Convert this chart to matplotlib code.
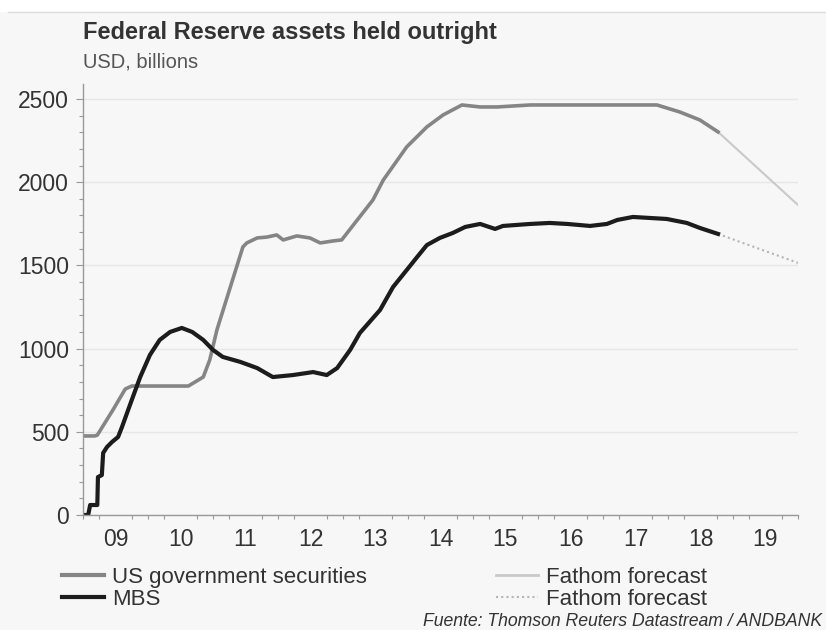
import matplotlib
matplotlib.use('Agg')

import matplotlib.pyplot as plt
from matplotlib.lines import Line2D
from matplotlib.ticker import MultipleLocator, FixedLocator, NullFormatter

plt.rcParams['font.family'] = ['Liberation Sans', 'DejaVu Sans']

# US government securities (year, USD bn)
gov_years = [2009.00, 2009.18, 2009.22, 2009.46, 2009.65, 2009.75, 2010.62, 2010.85,
             2010.95, 2011.06, 2011.46, 2011.52, 2011.68, 2011.83, 2011.98, 2012.08,
             2012.29, 2012.49, 2012.65, 2012.85, 2012.98, 2013.46, 2013.62, 2013.98,
             2014.29, 2014.54, 2014.83, 2015.11, 2015.37, 2015.88, 2016.95, 2017.83,
             2018.18, 2018.49, 2018.77]
gov_values = [475, 475, 480, 631, 757, 775, 775, 829,
              932, 1112, 1611, 1635, 1665, 1670, 1683, 1653,
              1677, 1665, 1635, 1647, 1653, 1893, 2013, 2212,
              2332, 2404, 2464, 2452, 2452, 2464, 2464, 2464,
              2422, 2374, 2302]

# MBS
mbs_years = [2009.00, 2009.08, 2009.11, 2009.22, 2009.23, 2009.29, 2009.31, 2009.37,
             2009.45, 2009.54, 2009.60, 2009.75, 2009.88, 2010.03, 2010.18, 2010.34,
             2010.52, 2010.68, 2010.85, 2011.00, 2011.15, 2011.42, 2011.68, 2011.92,
             2012.23, 2012.54, 2012.75, 2012.91, 2013.11, 2013.26, 2013.57, 2013.77,
             2013.98, 2014.14, 2014.29, 2014.49, 2014.69, 2014.88, 2015.11, 2015.34,
             2015.46, 2015.88, 2016.18, 2016.45, 2016.80, 2017.06, 2017.22, 2017.46,
             2017.98, 2018.29, 2018.49, 2018.77]
mbs_values = [0, 0, 60, 60, 228, 240, 373, 409,
              440, 469, 529, 691, 829, 962, 1052, 1100,
              1124, 1100, 1052, 992, 950, 920, 883, 829,
              841, 859, 841, 883, 992, 1094, 1232, 1370,
              1472, 1550, 1622, 1665, 1695, 1731, 1749, 1719,
              1737, 1749, 1755, 1749, 1737, 1749, 1773, 1791,
              1779, 1755, 1725, 1689]

# Fathom forecasts
gov_fc_years = [2018.77, 2020.0]
gov_fc_values = [2302, 1863]
mbs_fc_years = [2018.77, 2020.0]
mbs_fc_values = [1689, 1515]

year_labels = ['09', '10', '11', '12', '13', '14', '15', '16', '17', '18', '19']
legend_labels = ['US government securities', 'MBS', 'Fathom forecast', 'Fathom forecast']

bg = '#f7f7f7'
gov_color = '#858585'
mbs_color = '#1c1c1c'
fc_color = '#c9c9c9'
text_color = '#333333'

fig = plt.figure(figsize=(8.26, 6.3), dpi=100, facecolor=bg)
ax = fig.add_axes([83 / 826, 1 - 515 / 630, (798 - 83) / 826, 431 / 630])
ax.set_facecolor(bg)

# white strip + thin rule at top of card
fig.patches.append(plt.Rectangle((0, 1 - 12 / 630), 1, 12 / 630, transform=fig.transFigure,
                                 facecolor='white', edgecolor='none'))
fig.add_artist(Line2D([8 / 826, 1], [1 - 12 / 630, 1 - 12 / 630], transform=fig.transFigure,
                      color='#dddddd', lw=1))

ax.plot(gov_fc_years, gov_fc_values, color=fc_color, lw=1.5)
ax.plot(mbs_fc_years, mbs_fc_values, color='#b5b5b5', lw=1.5, linestyle=(0, (1, 1.5)))
ax.plot(gov_years, gov_values, color=gov_color, lw=2.6, solid_joinstyle='round')
ax.plot(mbs_years, mbs_values, color=mbs_color, lw=3, solid_joinstyle='round')

ax.set_xlim(2009, 2020)
ax.set_ylim(0, 2590)

ax.yaxis.set_major_locator(FixedLocator([0, 500, 1000, 1500, 2000, 2500]))
ax.yaxis.set_minor_locator(MultipleLocator(100))
ax.set_xticks([2009.5 + i for i in range(len(year_labels))])
ax.set_xticklabels(year_labels)
ax.xaxis.set_minor_locator(MultipleLocator(0.25))
ax.xaxis.set_minor_formatter(NullFormatter())

ax.tick_params(axis='x', which='major', length=0, pad=9, labelsize=16.5, labelcolor=text_color)
ax.tick_params(axis='x', which='minor', length=3, color='#999999', width=0.8)
ax.tick_params(axis='y', which='major', length=5, pad=5, color='#999999', labelsize=16.5,
               labelcolor=text_color)
ax.tick_params(axis='y', which='minor', length=3, color='#999999', width=0.8)

ax.grid(axis='y', which='major', color='#e7e7e7', lw=1)
ax.set_axisbelow(True)
for s in ['top', 'right']:
    ax.spines[s].set_visible(False)
for s in ['left', 'bottom']:
    ax.spines[s].set_color('#999999')
    ax.spines[s].set_linewidth(1)

fig.text(83 / 826, 1 - 32 / 630, 'Federal Reserve assets held outright', fontsize=17,
         fontweight='bold', color=text_color, va='center', ha='left')
fig.text(83 / 826, 1 - 62 / 630, 'USD, billions', fontsize=14.5, color='#555555',
         va='center', ha='left')

handles = [Line2D([], [], color=gov_color, lw=3),
           Line2D([], [], color=mbs_color, lw=3),
           Line2D([], [], color=fc_color, lw=2),
           Line2D([], [], color='#b5b5b5', lw=1.5, linestyle=(0, (1, 1.5)))]
fig.legend(handles, legend_labels, loc='upper left', bbox_to_anchor=(62 / 826, 1 - 567 / 630),
           ncol=2, frameon=False, fontsize=16, borderpad=0, borderaxespad=0,
           handlelength=1.9, handletextpad=0.35, columnspacing=5.8, labelspacing=0.05,
           labelcolor=text_color)

fig.text(822 / 826, 1 - 621 / 630, 'Fuente: Thomson Reuters Datastream / ANDBANK',
         fontsize=12.7, style='italic', color=text_color, ha='right', va='center')

fig.savefig('out.png', dpi=100, facecolor=bg)
